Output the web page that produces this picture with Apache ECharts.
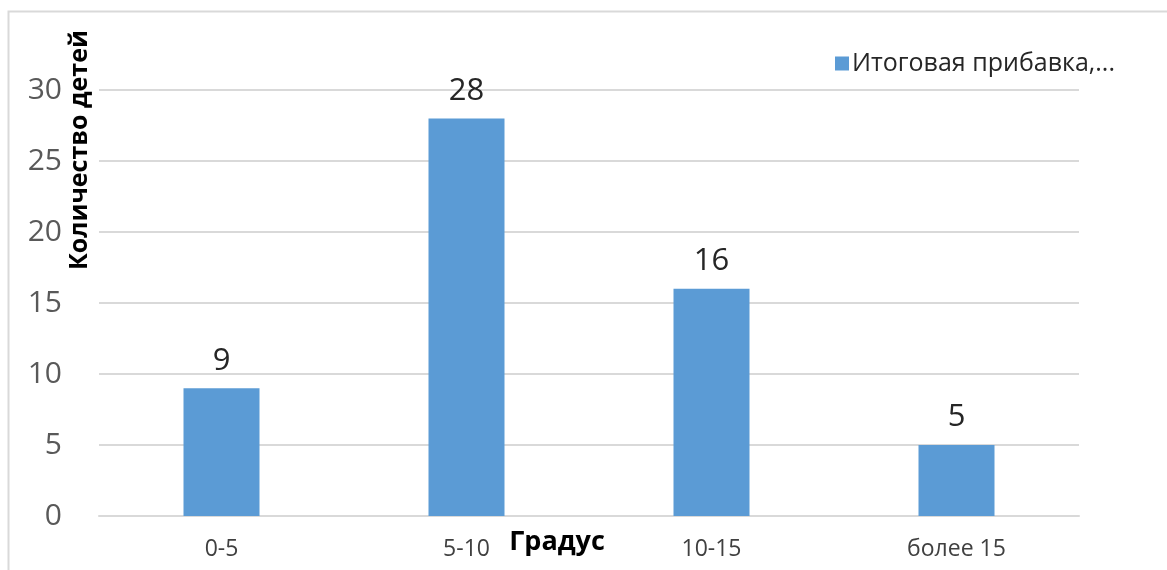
<!DOCTYPE html>
<html>
<head>
<meta charset="utf-8">
<style>
  html, body { margin: 0; padding: 0; background: #fff; }
  #chart { width: 1167px; height: 570px; }
</style>
<script src="https://cdn.jsdelivr.net/npm/echarts@6/dist/echarts.min.js"></script>
</head>
<body>
<div id="chart"></div>
<script>
// Ranges of degrees and number of children in each range
const categories = ['0-5', '5-10', '10-15', 'более 15'];
const seriesName = 'Итоговая прибавка,...';
const values = [9, 28, 16, 5];
const yTicks = [0, 5, 10, 15, 20, 25, 30];

const FONT = '"Open Sans", "Liberation Sans", sans-serif';

const chart = echarts.init(document.getElementById('chart'));
chart.setOption({
  animation: false,
  backgroundColor: '#ffffff',
  textStyle: { fontFamily: FONT },
  grid: { left: 99, right: 88, top: 90, bottom: 54, outerBoundsMode: 'none' },
  legend: {
    left: 830, top: 46,
    icon: 'rect', itemWidth: 14, itemHeight: 14, itemGap: 10,
    textStyle: { fontFamily: FONT, fontSize: 25, color: '#262626', padding: [0, 0, 0, -2] },
    data: [seriesName]
  },
  xAxis: {
    type: 'category',
    data: categories,
    name: 'Градус',
    nameLocation: 'middle',
    nameGap: 13,
    nameMoveOverlap: false,
    nameTextStyle: { fontFamily: FONT, fontSize: 27, fontWeight: 'bold', color: '#000', padding: [0, 64, 0, 0] },
    axisLine: { show: true, lineStyle: { color: '#d9d9d9', width: 2 } },
    axisTick: { show: false },
    axisLabel: { fontFamily: FONT, fontSize: 23, color: '#404040', margin: 22 }
  },
  yAxis: {
    type: 'value',
    min: yTicks[0], max: yTicks[yTicks.length - 1], interval: 5,
    axisLine: { show: false },
    axisTick: { show: false },
    splitLine: { lineStyle: { color: '#d9d9d9', width: 2 } },
    axisLabel: { fontFamily: FONT, fontSize: 30, color: '#595959', margin: 37 }
  },
  series: [{
    name: seriesName,
    type: 'bar',
    data: values,
    barWidth: 76,
    itemStyle: { color: '#5b9bd5' },
    label: {
      show: true, position: 'top', distance: 12,
      fontFamily: FONT, fontSize: 31, color: '#262626'
    }
  }],
  graphic: [
    {
      type: 'rect', silent: true, z: -1,
      shape: { x: 8.5, y: 11.5, width: 1170, height: 580 },
      style: { fill: 'none', stroke: '#d9d9d9', lineWidth: 2 }
    },
    {
      type: 'text', silent: true,
      x: 80, y: 150, rotation: Math.PI / 2,
      style: {
        text: 'Количество детей',
        fontFamily: FONT, fontSize: 25, fontWeight: 'bold', fill: '#000',
        align: 'center', verticalAlign: 'middle'
      }
    }
  ]
});
</script>
</body>
</html>
